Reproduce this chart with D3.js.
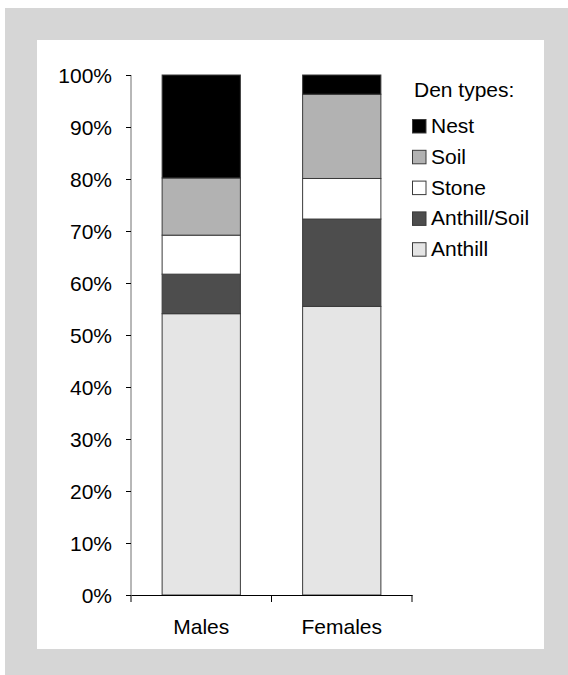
<!DOCTYPE html>
<html>
<head>
<meta charset="utf-8">
<script src="https://cdn.jsdelivr.net/npm/d3@7"></script>
<style>
html, body { margin: 0; padding: 0; background: #ffffff; }
svg { display: block; font-family: "Liberation Sans", Arial, Helvetica, sans-serif; }
</style>
</head>
<body>
<svg id="chart" width="568" height="675"></svg>
<script>
const categories = ["Males", "Females"];
const denTypes = ["Anthill", "Anthill/Soil", "Stone", "Soil", "Nest"];
const malesValues = [54.1, 7.6, 7.5, 11.0, 19.8];
const femalesValues = [55.5, 16.8, 7.8, 16.2, 3.7];
const yTickValues = [0, 10, 20, 30, 40, 50, 60, 70, 80, 90, 100];
const legendTitle = "Den types:";
const colors = ["#e5e5e5", "#4d4d4d", "#ffffff", "#b2b2b2", "#000000"];

const seriesByCat = { "Males": malesValues, "Females": femalesValues };
const FS = 21;

const svg = d3.select("#chart");

// frame
svg.append("rect").attr("x", 5).attr("y", 8).attr("width", 563).attr("height", 667).attr("fill", "#d6d6d6");
svg.append("rect").attr("x", 37).attr("y", 40).attr("width", 507).attr("height", 609).attr("fill", "#ffffff");

const x = d3.scaleBand().domain(categories).range([131, 412]).paddingInner(0.443).paddingOuter(0.2215);
const y = d3.scaleLinear().domain([0, 100]).range([595, 75]);

const table = categories.map(c => {
  const row = { cat: c };
  denTypes.forEach((t, i) => row[t] = seriesByCat[c][i]);
  return row;
});
const stacked = d3.stack().keys(denTypes)(table);
const color = d3.scaleOrdinal().domain(denTypes).range(colors);

svg.append("g").selectAll("g").data(stacked).join("g")
  .attr("fill", d => color(d.key))
  .selectAll("rect").data(d => d).join("rect")
  .attr("x", d => x(d.data.cat))
  .attr("width", x.bandwidth())
  .attr("y", d => y(d[1]))
  .attr("height", d => y(d[0]) - y(d[1]))
  .attr("stroke", "#3a3a3a")
  .attr("stroke-width", 1);

// y axis
const yAxis = svg.append("g").attr("transform", "translate(131,0)")
  .call(d3.axisLeft(y).tickValues(yTickValues).tickFormat(d => d + "%").tickSize(5).tickPadding(14));
yAxis.select(".domain").attr("stroke", "#707070").attr("d", `M0,${y(0)}V${y(100)}`);
yAxis.selectAll(".tick line").attr("stroke", "#000");
yAxis.selectAll("text").attr("font-size", FS).attr("fill", "#000").attr("font-family", "Liberation Sans, Arial, sans-serif").attr("dy", "0.35em");

// x axis
const xAxis = svg.append("g").attr("transform", `translate(0,${y(0)})`)
  .call(d3.axisBottom(x).tickSize(0).tickPadding(24));
xAxis.select(".domain").attr("stroke", "#000");
xAxis.selectAll("text").attr("font-size", FS).attr("fill", "#000").attr("font-family", "Liberation Sans, Arial, sans-serif");
const boundaries = categories.map(c => x(c) - x.step() * x.paddingInner() / 2).concat([x.range()[1]]);
xAxis.selectAll(".bt").data(boundaries).join("line").attr("class", "bt")
  .attr("x1", d => d).attr("x2", d => d).attr("y1", 0).attr("y2", 7)
  .attr("stroke", "#000");

// legend
const legend = svg.append("g");
legend.append("text").attr("x", 414).attr("y", 97).attr("font-size", FS).text(legendTitle);
const legendOrder = denTypes.slice().reverse();
const li = legend.selectAll("g.li").data(legendOrder).join("g").attr("class", "li")
  .attr("transform", (d, i) => `translate(412,${119 + i * 30.8})`);
li.append("rect").attr("x", 0.5).attr("y", 0.5).attr("width", 13.5).attr("height", 13.5)
  .attr("fill", d => color(d)).attr("stroke", "#3a3a3a");
li.append("text").attr("x", 19).attr("y", 14).attr("font-size", FS).text(d => d);
</script>
</body>
</html>
